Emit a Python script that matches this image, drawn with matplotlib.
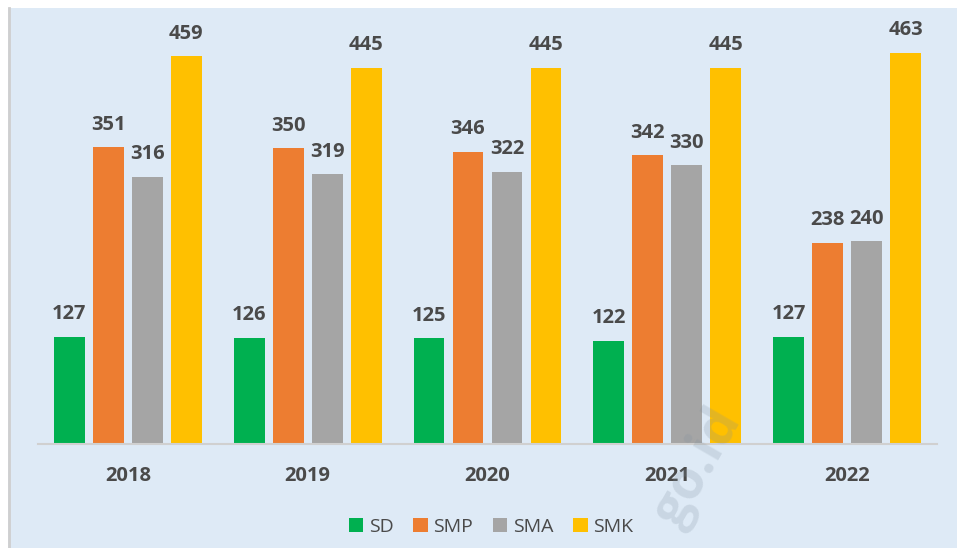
import numpy as np
import matplotlib
matplotlib.use("Agg")
import matplotlib.pyplot as plt
from matplotlib.patches import Rectangle
from matplotlib.lines import Line2D

years = ["2018", "2019", "2020", "2021", "2022"]
series = ["SD", "SMP", "SMA", "SMK"]
sd = [127, 126, 125, 122, 127]
smp = [351, 350, 346, 342, 238]
sma = [316, 319, 322, 330, 240]
smk = [459, 445, 445, 445, 463]
colors = ["#00B050", "#ED7D31", "#A5A5A5", "#FFC000"]

plt.rcParams["font.family"] = ["Open Sans", "DejaVu Sans"]
text_col = "#4A4A4A"

W, H = 957, 548
fig = plt.figure(figsize=(W / 100, H / 100), dpi=100, facecolor="white")

# light blue panel with grey left edge
fig.patches.append(Rectangle((8 / W, 0), 1 - 8 / W, (H - 8) / H,
                             transform=fig.transFigure, facecolor="#DEEAF6",
                             edgecolor="none", zorder=-10))
fig.lines.append(Line2D([8.5 / W, 8.5 / W], [0, (H - 8) / H],
                        transform=fig.transFigure, color="#CFCFCF", lw=2,
                        zorder=-9))

ax = fig.add_axes([38 / W, (H - 444) / H, (937 - 38) / W, (444 - 8) / H])
ax.set_facecolor("none")
ax.set_zorder(1)

x = np.arange(len(years))
step = 0.217
width = 0.172
data = [sd, smp, sma, smk]
for i, (name, vals) in enumerate(zip(series, data)):
    pos = x + (i - 1.5) * step
    bars = ax.bar(pos, vals, width, color=colors[i], label=name, zorder=2)
    for b, v in zip(bars, vals):
        ax.annotate(str(v), (b.get_x() + b.get_width() / 2, v),
                    xytext=(0, 9), textcoords="offset points",
                    ha="center", va="bottom", fontsize=14.5,
                    fontweight="bold", color=text_col)

ax.set_xlim(-0.5, len(years) - 0.5)
ax.set_ylim(0, 516)
ax.set_yticks([])
ax.set_xticks(x)
ax.set_xticklabels(years, fontsize=14.5, fontweight="bold", color=text_col)
ax.tick_params(axis="x", length=0, pad=16)
for s in ["top", "right", "left"]:
    ax.spines[s].set_visible(False)
ax.spines["bottom"].set_color("#D0D0D0")
ax.spines["bottom"].set_linewidth(1.5)

fig.legend(loc="center", bbox_to_anchor=(491 / W, 1 - 527 / H), ncol=4,
           frameon=False, fontsize=14, handlelength=0.75, handleheight=0.75,
           handletextpad=0.3, columnspacing=1.0, labelcolor=text_col)

# faint watermark
fig.text(698 / W, 1 - 468 / H, "go.id", rotation=60, fontsize=38,
         fontweight="bold", color="#8090A0", alpha=0.22,
         ha="center", va="center", zorder=5)

fig.savefig("out.png", dpi=100, facecolor="white")
